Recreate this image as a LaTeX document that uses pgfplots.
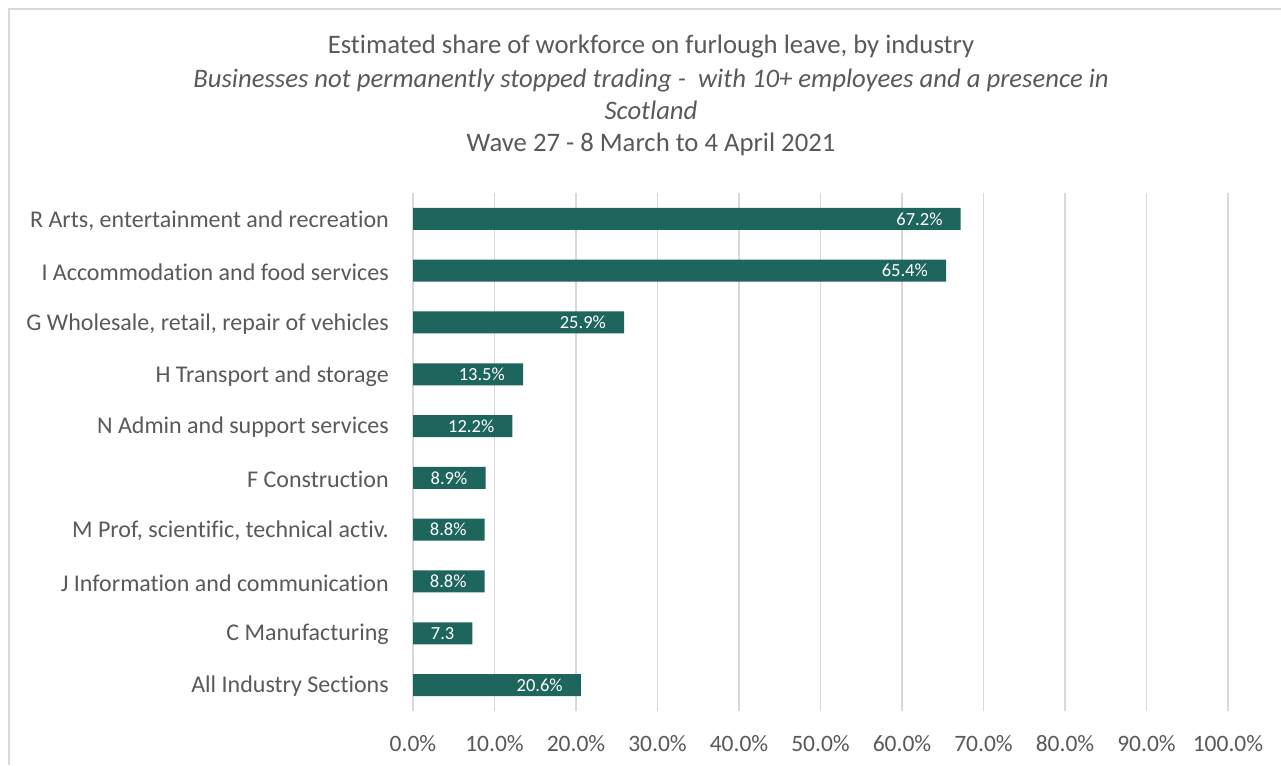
\documentclass[border=0pt]{standalone}
\usepackage{pgfplots}
\pgfplotsset{compat=1.18}
\usepackage{fontspec}
\setmainfont{Carlito}[Ligatures=NoCommon]
\definecolor{barc}{RGB}{30,101,93}
\definecolor{gridc}{RGB}{217,217,217}
\definecolor{txt}{RGB}{89,89,89}
\begin{document}
\begin{tikzpicture}
\useasboundingbox (0pt,0pt) rectangle (1281pt,765pt);
\draw[gridc, line width=1.5pt] (9pt,0pt) -- (9pt,756pt) -- (1281pt,756pt);
\begin{axis}[
  at={(413pt,54pt)}, anchor=south west,
  scale only axis, width=815pt, height=518pt,
  xmin=0, xmax=100, ymin=-0.5, ymax=9.5,
  xbar, bar width=22pt,
  axis line style={draw=none},
  tick style={draw=none}, major tick length=0pt,
  xmajorgrids, grid style={gridc, line width=1.5pt},
  xtick={0,10,...,100},
  xticklabels={0.0\%,10.0\%,20.0\%,30.0\%,40.0\%,50.0\%,60.0\%,70.0\%,80.0\%,90.0\%,100.0\%},
  ytick={0,...,9},
  yticklabels={All Industry Sections,C Manufacturing,J Information and communication,{M Prof, scientific, technical activ.},F Construction,N Admin and support services,H Transport and storage,{G Wholesale, retail, repair of vehicles},I Accommodation and food services,{R Arts, entertainment and recreation}},
  xticklabel style={font=\fontsize{23.5}{28}\selectfont, text=txt, anchor=north, inner sep=0pt, yshift=-24pt},
  yticklabel style={font=\fontsize{24}{28}\selectfont, text=txt, anchor=east, inner sep=0pt, xshift=-24pt, yshift=-1.5pt},
  point meta=explicit symbolic,
  nodes near coords,
  every node near coord/.append style={font=\fontsize{18.5}{22}\selectfont, text=white, anchor=east, inner sep=0pt, xshift=-18pt},
  clip=false,
]
\addplot[fill=barc, draw=none] coordinates {
(20.6,0) [20.6\%]
(7.3,1) [7.3]
(8.8,2) [8.8\%]
(8.8,3) [8.8\%]
(8.9,4) [8.9\%]
(12.2,5) [12.2\%]
(13.5,6) [13.5\%]
(25.9,7) [25.9\%]
(65.4,8) [65.4\%]
(67.2,9) [67.2\%]
};
\end{axis}
\begin{scope}[every node/.style={text=txt, font=\fontsize{26.7}{30}\selectfont, anchor=base, inner sep=0pt}]
\node at (651pt,711pt) {Estimated share of workforce on furlough leave, by industry};
\node at (651pt,677pt) {\itshape Businesses not permanently stopped trading -\ \ with 10+ employees and a presence in};
\node at (651pt,645pt) {\itshape Scotland};
\node at (651pt,613pt) {Wave 27 - 8 March to 4 April 2021};
\end{scope}
\end{tikzpicture}
\end{document}
